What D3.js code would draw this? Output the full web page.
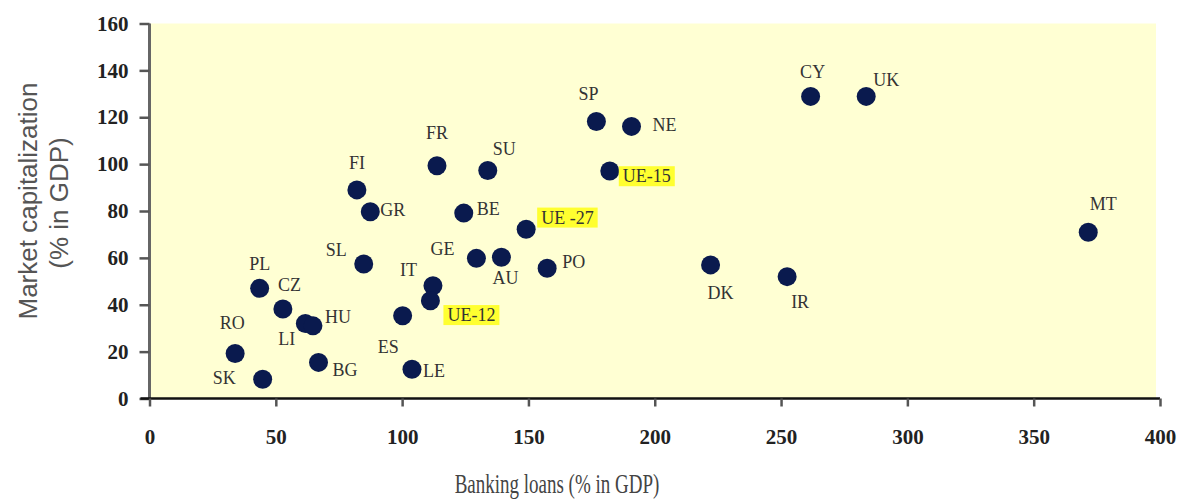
<!DOCTYPE html>
<html>
<head>
<meta charset="utf-8">
<script src="https://cdn.jsdelivr.net/npm/d3@7"></script>
<style>
  body { margin: 0; background: #fff; }
  svg text { font-family: "Liberation Serif", "Times New Roman", serif; }
</style>
</head>
<body>
<div class="chart"></div>
<script>
// country codes, banking loans (% GDP) and market capitalization (% GDP)
const countries = ["RO","SK","PL","CZ","LI","HU","BG","SL","ES","FI","GR","FR","SU","BE","UE -27",
                   "SP","NE","UE-15","GE","AU","PO","DK","IT","UE-12","LE","CY","UK","MT","IR"];
const loans  = [33.9, 44.8, 43.6, 52.8, 61.7, 64.7, 66.9, 84.8, 100.2, 82.1, 87.4, 113.8, 133.9, 124.4, 149.1,
                176.9, 190.8, 182.2, 129.4, 139.3, 157.4, 222.1, 112.2, 111.2, 103.9, 261.7, 283.7, 371.6, 252.4];
const mktcap = [19.2, 8.2, 47.0, 38.2, 32.0, 31.0, 15.4, 57.4, 35.3, 89.0, 79.7, 99.3, 97.3, 79.1, 72.2,
                118.2, 116.1, 97.1, 59.8, 60.3, 55.6, 57.0, 48.1, 41.7, 12.5, 128.9, 128.9, 70.9, 52.0];
const aggregates = ["UE -27", "UE-15", "UE-12"];
const xTicks = [0, 50, 100, 150, 200, 250, 300, 350, 400];
const yTicks = [0, 20, 40, 60, 80, 100, 120, 140, 160];

// label placement (pixel offsets from the dot), layout only
const labelPos = {
  "RO": [-3, -31, "middle"], "SK": [-27, -2, "end"], "PL": [0, -25, "middle"],
  "CZ": [-5, -24, "start"], "LI": [-27, 15, "start"], "HU": [12, -9, "start"],
  "BG": [14, 7, "start"], "SL": [-38, -14, "start"], "ES": [-25, 31, "start"],
  "FI": [0, -27, "middle"], "GR": [10, -2, "start"], "FR": [0, -33, "middle"],
  "SU": [5, -22, "start"], "BE": [13, -4, "start"], "UE -27": [15, -12, "start"],
  "SP": [-8, -28, "middle"], "NE": [21, -2, "start"], "UE-15": [13, 5, "start"],
  "GE": [-46, -10, "start"], "AU": [-9, 21, "start"], "PO": [15, -7, "start"],
  "DK": [10, 28, "middle"], "IT": [-33, -16, "start"], "UE-12": [17, 14, "start"],
  "LE": [11, 1, "start"], "CY": [2, -25, "middle"], "UK": [7, -17, "start"],
  "MT": [15, -29, "middle"], "IR": [13, 25, "middle"]
};

const width = 1188;
const height = 500;

const data = countries.map((c, i) => ({name: c, x: loans[i], y: mktcap[i]}));

const svg = d3.select(".chart")
  .append("svg")
  .attr("width", width)
  .attr("height", height);

const x = d3.scaleLinear().domain([0, 400]).range([149.5, 1160]);
const y = d3.scaleLinear().domain([0, 160]).range([398.5, 23.5]);

// plot background
svg.append("rect")
  .attr("x", x(0))
  .attr("y", y(160))
  .attr("width", x(400) - x(0) - 4)
  .attr("height", y(0) - y(160))
  .attr("fill", "#ffffd3");

// y axis
const yAxis = svg.append("g")
  .attr("transform", `translate(${x(0)},0)`)
  .call(d3.axisLeft(y).tickValues(yTicks).tickSize(10).tickPadding(11).tickFormat(d3.format("d")));
yAxis.select(".domain").attr("stroke", "#666").attr("stroke-width", 3).attr("d", `M0,${y(160)}V${y(0)}`);
yAxis.selectAll(".tick line").attr("stroke", "#555").attr("stroke-width", 2.5);
yAxis.selectAll(".tick text")
  .attr("font-size", 21).attr("font-weight", "bold").attr("fill", "#222")
  .style("font-family", "'Liberation Serif', serif");

// x axis
const xAxis = svg.append("g")
  .attr("transform", `translate(0,${y(0)})`)
  .call(d3.axisBottom(x).tickValues(xTicks).tickSize(8).tickFormat(d3.format("d")));
xAxis.select(".domain").attr("stroke", "#111").attr("stroke-width", 2.5).attr("d", `M${x(0) - 9},0H${x(400)}`);
xAxis.selectAll(".tick line").attr("stroke", "#555").attr("stroke-width", 2.5);
xAxis.selectAll(".tick text")
  .attr("y", 45).attr("dy", null)
  .attr("font-size", 21).attr("font-weight", "bold").attr("fill", "#222")
  .style("font-family", "'Liberation Serif', serif");

// axis titles
svg.append("text")
  .attr("transform", "translate(37,201) rotate(-90)")
  .attr("text-anchor", "middle")
  .attr("font-size", 26)
  .attr("fill", "#555")
  .style("font-family", "'Liberation Sans', Arial, sans-serif")
  .text("Market capitalization");
svg.append("text")
  .attr("transform", "translate(68,203) rotate(-90)")
  .attr("text-anchor", "middle")
  .attr("font-size", 26)
  .attr("fill", "#555")
  .style("font-family", "'Liberation Sans', Arial, sans-serif")
  .text("(% in GDP)");
svg.append("g")
  .attr("transform", "translate(557,493)")
  .append("text")
  .attr("transform", "scale(1,1.45)")
  .attr("text-anchor", "middle")
  .attr("font-size", 19)
  .attr("fill", "#444")
  .text("Banking loans (% in GDP)");

// dots
svg.selectAll(".dot")
  .data(data)
  .enter()
  .append("circle")
  .attr("class", "dot")
  .attr("cx", d => x(d.x))
  .attr("cy", d => y(d.y))
  .attr("r", 9.5)
  .attr("fill", "#0a1a4e");

// labels
const labels = svg.selectAll(".lbl")
  .data(data)
  .enter()
  .append("g")
  .attr("class", "lbl")
  .attr("transform", d => {
    const p = labelPos[d.name];
    return `translate(${x(d.x) + p[0]},${y(d.y) + p[1]})`;
  });

labels.append("text")
  .attr("text-anchor", d => labelPos[d.name][2])
  .attr("dy", "0.35em")
  .attr("font-size", 18)
  .attr("fill", "#333")
  .text(d => d.name)
  .each(function(d){
    if (aggregates.includes(d.name)) {
      const b = this.getBBox();
      d3.select(this.parentNode).insert("rect", "text")
        .attr("x", b.x - 4)
        .attr("y", b.y)
        .attr("width", b.width + 8)
        .attr("height", b.height)
        .attr("fill", "#ffff30");
    }
  });
</script>
</body>
</html>
